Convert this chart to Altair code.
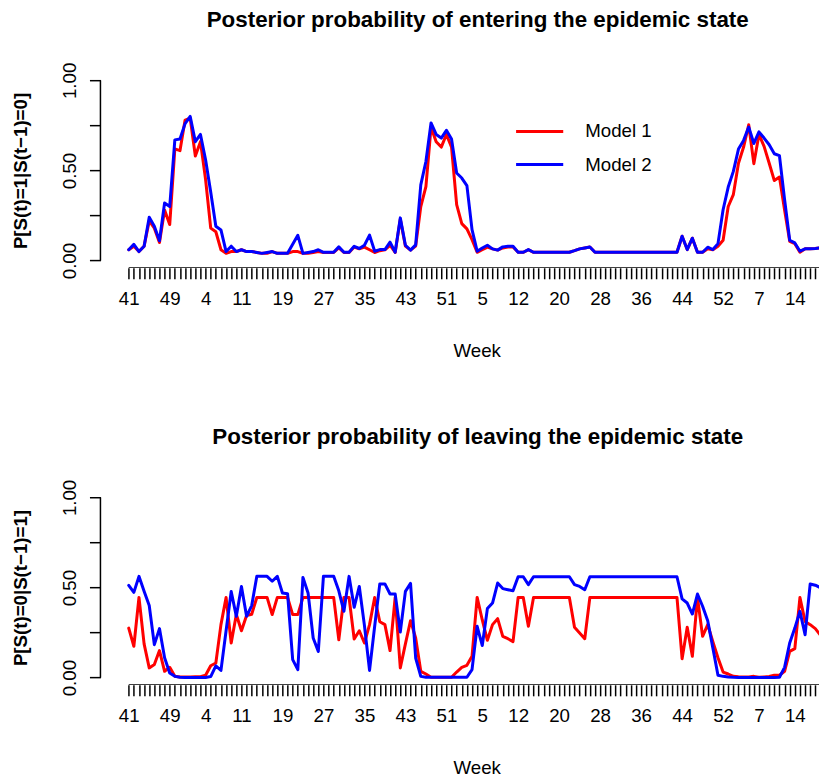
import altair as alt
import pandas as pd

FONT = "Liberation Sans"

# ---- data ----
weeks = (list(range(41, 53)) + list(range(1, 54)) + list(range(1, 53)) + list(range(1, 21)))
shown_idx = [0, 8, 15, 22, 30, 38, 46, 54, 62, 69, 76, 84, 92, 100, 108, 116, 123, 130]
models = ["Model 1", "Model 2"]

m1_enter = [
    0.06, 0.08, 0.05, 0.08, 0.22, 0.18, 0.10, 0.28, 0.20, 0.62,
    0.61, 0.78, 0.79, 0.58, 0.66, 0.45, 0.18, 0.16, 0.06, 0.04,
    0.05, 0.05, 0.06, 0.05, 0.05, 0.045, 0.04, 0.04, 0.05, 0.04,
    0.04, 0.04, 0.05, 0.05, 0.04, 0.04, 0.045, 0.05, 0.045, 0.045,
    0.045, 0.07, 0.045, 0.045, 0.075, 0.065, 0.075, 0.06, 0.045, 0.055,
    0.06, 0.085, 0.045, 0.23, 0.08, 0.058, 0.08, 0.30, 0.41, 0.74,
    0.66, 0.63, 0.70, 0.63, 0.31, 0.205, 0.176, 0.116, 0.046, 0.06,
    0.075, 0.065, 0.058, 0.07, 0.075, 0.075, 0.046, 0.046, 0.06, 0.046,
    0.046, 0.046, 0.046, 0.046, 0.046, 0.046, 0.046, 0.055, 0.065, 0.07,
    0.075, 0.046, 0.046, 0.046, 0.046, 0.046, 0.046, 0.046, 0.046, 0.046,
    0.046, 0.046, 0.046, 0.046, 0.046, 0.046, 0.046, 0.046, 0.135, 0.061,
    0.124, 0.046, 0.046, 0.065, 0.06, 0.08, 0.113, 0.30, 0.366, 0.54,
    0.63, 0.754, 0.538, 0.70, 0.634, 0.54, 0.444, 0.464, 0.28, 0.107,
    0.094, 0.046, 0.065, 0.065, 0.067, 0.07, 0.046,
]
m2_enter = [
    0.06, 0.09, 0.05, 0.08, 0.24, 0.19, 0.11, 0.32, 0.30, 0.67,
    0.675, 0.76, 0.80, 0.66, 0.70, 0.56, 0.38, 0.19, 0.17, 0.05,
    0.08, 0.05, 0.06, 0.05, 0.05, 0.045, 0.04, 0.045, 0.05, 0.04,
    0.04, 0.04, 0.09, 0.14, 0.04, 0.045, 0.05, 0.06, 0.046, 0.046,
    0.046, 0.076, 0.046, 0.046, 0.079, 0.067, 0.085, 0.141, 0.052, 0.061,
    0.061, 0.102, 0.046, 0.237, 0.085, 0.058, 0.087, 0.42, 0.55, 0.764,
    0.70, 0.68, 0.723, 0.675, 0.486, 0.458, 0.416, 0.172, 0.052, 0.07,
    0.085, 0.065, 0.058, 0.076, 0.079, 0.079, 0.046, 0.046, 0.061, 0.046,
    0.046, 0.046, 0.046, 0.046, 0.046, 0.046, 0.046, 0.055, 0.065, 0.07,
    0.075, 0.046, 0.046, 0.046, 0.046, 0.046, 0.046, 0.046, 0.046, 0.046,
    0.046, 0.046, 0.046, 0.046, 0.046, 0.046, 0.046, 0.046, 0.135, 0.061,
    0.124, 0.046, 0.046, 0.074, 0.061, 0.094, 0.282, 0.408, 0.495, 0.619,
    0.667, 0.741, 0.65, 0.714, 0.68, 0.643, 0.593, 0.582, 0.34, 0.113,
    0.098, 0.052, 0.065, 0.065, 0.067, 0.07, 0.046,
]
m1_leave = [
    0.275, 0.174, 0.445, 0.187, 0.054, 0.073, 0.15, 0.035, 0.057, 0.007,
    0.004, 0.003, 0.003, 0.005, 0.005, 0.013, 0.066, 0.081, 0.294, 0.445,
    0.192, 0.35, 0.26, 0.345, 0.352, 0.445, 0.445, 0.445, 0.35, 0.445,
    0.445, 0.445, 0.35, 0.35, 0.445, 0.445, 0.445, 0.445, 0.445, 0.445,
    0.445, 0.21, 0.445, 0.445, 0.214, 0.26, 0.192, 0.294, 0.445, 0.31,
    0.294, 0.15, 0.445, 0.054, 0.187, 0.316, 0.22, 0.035, 0.02, 0.002,
    0.002, 0.002, 0.002, 0.002, 0.031, 0.057, 0.068, 0.118, 0.445, 0.32,
    0.207, 0.294, 0.327, 0.229, 0.216, 0.20, 0.445, 0.445, 0.285, 0.445,
    0.445, 0.445, 0.445, 0.445, 0.445, 0.445, 0.445, 0.279, 0.248, 0.216,
    0.445, 0.445, 0.445, 0.445, 0.445, 0.445, 0.445, 0.445, 0.445, 0.445,
    0.445, 0.445, 0.445, 0.445, 0.445, 0.445, 0.445, 0.445, 0.105, 0.279,
    0.118, 0.445, 0.229, 0.294, 0.20, 0.11, 0.031, 0.02, 0.007, 0.005,
    0.004, 0.004, 0.007, 0.002, 0.004, 0.006, 0.013, 0.013, 0.035, 0.146,
    0.161, 0.445, 0.312, 0.294, 0.272, 0.235, 0.445,
]
m2_leave = [
    0.512, 0.473, 0.562, 0.48, 0.40, 0.183, 0.272, 0.11, 0.026, 0.007,
    0.002, 0.0, 0.0, 0.0, 0.0, 0.001, 0.006, 0.065, 0.04, 0.26,
    0.478, 0.34, 0.506, 0.34, 0.40, 0.562, 0.562, 0.562, 0.535, 0.562,
    0.47, 0.466, 0.10, 0.044, 0.556, 0.47, 0.22, 0.145, 0.562, 0.562,
    0.562, 0.482, 0.368, 0.562, 0.39, 0.506, 0.29, 0.04, 0.285, 0.52,
    0.52, 0.464, 0.464, 0.253, 0.479, 0.523, 0.109, 0.007, 0.002, 0.002,
    0.002, 0.002, 0.002, 0.002, 0.002, 0.002, 0.002, 0.044, 0.285, 0.178,
    0.383, 0.414, 0.525, 0.494, 0.488, 0.482, 0.56, 0.56, 0.516, 0.56,
    0.56, 0.56, 0.56, 0.56, 0.56, 0.56, 0.56, 0.516, 0.506, 0.488,
    0.56, 0.56, 0.56, 0.56, 0.56, 0.56, 0.56, 0.56, 0.56, 0.56,
    0.56, 0.56, 0.56, 0.56, 0.56, 0.56, 0.56, 0.56, 0.437, 0.414,
    0.353, 0.464, 0.396, 0.316, 0.165, 0.013, 0.007, 0.004, 0.002, 0.001,
    0.0, 0.0, 0.0, 0.0, 0.0, 0.0, 0.001, 0.002, 0.057, 0.192,
    0.275, 0.368, 0.238, 0.52, 0.513, 0.499, 0.562,
]
y_ticks = [0, 0.25, 0.5, 0.75, 1.0]

N = len(weeks)
idx = list(range(N))

# ---- layout constants ----
W = 719.0
H = 194.7
STEP = 5.127
X0 = -28.3 / STEP
X1 = X0 + W / STEP
FS = 18.7

xscale = alt.Scale(domain=[X0, X1], nice=False, zero=False)
yscale = alt.Scale(domain=[-0.04, 1.04], nice=False, zero=False)
cscale = alt.Scale(domain=models, range=["#ff0000", "#0000ff"])

label_arr = [str(weeks[i]) if i in shown_idx else "" for i in idx]
label_expr = "[" + ",".join("'" + s + "'" for s in label_arr) + "][datum.value]"


def long_df(a, b):
    return pd.DataFrame({
        "idx": idx + idx,
        "value": a + b,
        "model": [models[0]] * N + [models[1]] * N,
    })


def panel(df, title, ytitle, with_legend):
    xaxis = alt.Axis(
        values=idx, tickCount=1000, labelExpr=label_expr, tickSize=11, tickWidth=1.5,
        tickColor="black", domain=False, grid=False, labelFont=FONT,
        labelFontSize=FS, labelColor="black", labelAngle=0,
        labelBaseline="alphabetic", labelPadding=25.8, labelOverlap=False,
        labelFlush=False, labelBound=False, title="Week", titleFont=FONT,
        titleFontSize=FS, titleFontWeight="normal", titleColor="black",
        titleX=376.5, titleY=89, titleBaseline="alphabetic", titleAlign="center",
    )
    yaxis = alt.Axis(
        values=y_ticks,
        labelExpr="datum.value == 0.25 || datum.value == 0.75 ? '' : format(datum.value, '.2f')",
        tickSize=11, tickWidth=1.5, tickColor="black", domain=False, grid=False,
        labelFont=FONT, labelFontSize=FS, labelColor="black", labelAngle=270,
        labelAlign="center", labelBaseline="alphabetic", labelPadding=14,
        labelOverlap=False, title=ytitle, titleFont=FONT, titleFontSize=FS,
        titleFontWeight="bold", titleColor="black", titleAngle=270,
        titleX=-73.7, titleY=H / 2, titleBaseline="alphabetic", titleAlign="center",
    )
    lines = alt.Chart(df).mark_line(strokeWidth=3, clip=True, strokeJoin="round", strokeCap="round").encode(
        x=alt.X("idx:Q", scale=xscale, axis=xaxis),
        y=alt.Y("value:Q", scale=yscale, axis=yaxis),
        color=alt.Color("model:N", scale=cscale, legend=None),
        order="idx:Q",
    )
    xline_df = pd.DataFrame({"a": [min(idx)], "b": [max(idx)]})
    xline = alt.Chart(xline_df).mark_rule(color="black", strokeWidth=1.5, clip=True).encode(
        x=alt.X("a:Q", scale=xscale), x2="b:Q", y=alt.value(H)
    )
    yline_df = pd.DataFrame({"a": [min(y_ticks)], "b": [max(y_ticks)]})
    yline = alt.Chart(yline_df).mark_rule(color="black", strokeWidth=1.5).encode(
        y=alt.Y("a:Q", scale=yscale), y2="b:Q", x=alt.value(0)
    )
    layers = [lines, xline, yline]
    if with_legend:
        leg_df = pd.DataFrame({"model": models, "y": [0.717, 0.533]})
        leg_line = alt.Chart(leg_df).mark_rule(strokeWidth=3).encode(
            x=alt.X("x0:Q", scale=xscale), x2="x1:Q",
            y=alt.Y("y:Q", scale=yscale),
            color=alt.Color("model:N", scale=cscale, legend=None),
        ).transform_calculate(x0="75.6", x1="84.8")
        leg_text = alt.Chart(leg_df).mark_text(
            align="left", baseline="middle", font=FONT, fontSize=FS, color="black"
        ).encode(
            x=alt.X("xt:Q", scale=xscale),
            y=alt.Y("y:Q", scale=yscale),
            text="model:N",
        ).transform_calculate(xt="89.1")
        layers += [leg_line, leg_text]
    return alt.layer(*layers).properties(
        width=W, height=H,
        title=alt.TitleParams(
            text=title, font=FONT, fontSize=22.4, fontWeight="bold", color="black",
            anchor="middle", dx=18, offset=13, baseline="alphabetic",
        ),
    )


top = panel(long_df(m1_enter, m2_enter),
            "Posterior probability of entering the epidemic state",
            "P[S(t)=1|S(t\u22121)=0]", True)
bottom = panel(long_df(m1_leave, m2_leave),
               "Posterior probability of leaving the epidemic state",
               "P[S(t)=0|S(t\u22121)=1]", False)

chart = alt.vconcat(top, bottom, spacing=222.3, bounds="flush").properties(
    padding={"left": 3.5, "top": 0, "right": 0, "bottom": 0},
    background="white",
).configure_view(stroke=None)

chart.save("out.html", embed_options={"renderer": "svg", "actions": False})
